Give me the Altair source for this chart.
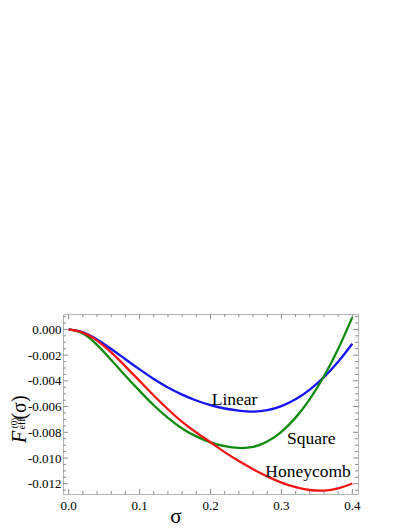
import altair as alt
import pandas as pd

# ---- data ----
sigma = [0.00, 0.02, 0.04, 0.06, 0.08, 0.10, 0.12, 0.14, 0.16, 0.18, 0.20,
         0.22, 0.24, 0.26, 0.28, 0.30, 0.32, 0.34, 0.36, 0.38, 0.40]
linear = [0.0, -0.00022, -0.00078, -0.00152, -0.00232, -0.00311, -0.00385,
          -0.00451, -0.00507, -0.00553, -0.00589, -0.00615, -0.00631, -0.00639,
          -0.00628, -0.00596, -0.00543, -0.00468, -0.00371, -0.00252, -0.00111]
square = [0.0, -0.00032, -0.00120, -0.00237, -0.00360, -0.00478, -0.00590,
          -0.00688, -0.00770, -0.00832, -0.00878, -0.00908, -0.00922, -0.00914,
          -0.00872, -0.00796, -0.00686, -0.00542, -0.00364, -0.00152, 0.00094]
honeycomb = [0.0, -0.00025, -0.00087, -0.00179, -0.00287, -0.00400, -0.00514,
             -0.00621, -0.00719, -0.00802, -0.00878, -0.00954, -0.01024, -0.01087,
             -0.01143, -0.01191, -0.01227, -0.01249, -0.01253, -0.01236, -0.01198]

series_names = ["Linear", "Square", "Honeycomb"]
series_colors = ["#1414f5", "#0f8a0f", "#f51414"]

label_text = ["Linear", "Square", "Honeycomb"]
label_x = [0.234, 0.342, 0.3375]
label_y = [-0.00588, -0.00891, -0.01151]

x_major = [0.0, 0.1, 0.2, 0.3, 0.4]
x_major_labels = ["0.0", "0.1", "0.2", "0.3", "0.4"]
x_minor = [0.02, 0.04, 0.06, 0.08, 0.12, 0.14, 0.16, 0.18, 0.22, 0.24, 0.26,
           0.28, 0.32, 0.34, 0.36, 0.38]
y_major = [0.0, -0.002, -0.004, -0.006, -0.008, -0.010, -0.012]
y_major_labels = ["0.000", "-0.002", "-0.004", "-0.006", "-0.008", "-0.010", "-0.012"]
y_minor = [0.001, 0.0005, -0.0005, -0.001, -0.0015, -0.0025, -0.003, -0.0035,
           -0.0045, -0.005, -0.0055, -0.0065, -0.007, -0.0075, -0.0085, -0.009,
           -0.0095, -0.0105, -0.011, -0.0115, -0.0125]

# ---- chart ----
W, H = 295, 180
FONT = "Liberation Serif"
TICK = "#8c8c8c"

df = pd.DataFrame({
    "sigma": sigma * 3,
    "F": linear + square + honeycomb,
    "series": [n for n in series_names for _ in sigma],
})

xs = alt.Scale(domain=[-0.008, 0.408], nice=False, zero=False)
ys = alt.Scale(domain=[-0.0128, 0.0012], nice=False, zero=False)

lines = alt.Chart(df).mark_line(strokeWidth=2.3, interpolate="natural", clip=True).encode(
    x=alt.X("sigma:Q", scale=xs, axis=None),
    y=alt.Y("F:Q", scale=ys, axis=None),
    color=alt.Color("series:N", scale=alt.Scale(domain=series_names, range=series_colors),
                    legend=None),
)


def xticks(vals, L):
    d = pd.DataFrame({"v": vals})
    b = alt.Chart(d).mark_rule(color=TICK, strokeWidth=1).encode(
        x=alt.X("v:Q", scale=xs, axis=None), y=alt.value(H), y2=alt.value(H - L))
    t = alt.Chart(d).mark_rule(color=TICK, strokeWidth=1).encode(
        x=alt.X("v:Q", scale=xs, axis=None), y=alt.value(0), y2=alt.value(L))
    return [b, t]


def yticks(vals, L):
    d = pd.DataFrame({"v": vals})
    l = alt.Chart(d).mark_rule(color=TICK, strokeWidth=1).encode(
        y=alt.Y("v:Q", scale=ys, axis=None), x=alt.value(0), x2=alt.value(L))
    r = alt.Chart(d).mark_rule(color=TICK, strokeWidth=1).encode(
        y=alt.Y("v:Q", scale=ys, axis=None), x=alt.value(W), x2=alt.value(W - L))
    return [l, r]


tick_layers = xticks(x_major, 5) + xticks(x_minor, 3) + yticks(y_major, 5) + yticks(y_minor, 3)

xlab = alt.Chart(pd.DataFrame({"v": x_major, "t": x_major_labels})).mark_text(
    font=FONT, fontSize=13, align="center", baseline="alphabetic", color="black"
).encode(x=alt.X("v:Q", scale=xs, axis=None), y=alt.value(196), text="t:N")

ylab = alt.Chart(pd.DataFrame({"v": y_major, "t": y_major_labels})).mark_text(
    font=FONT, fontSize=13, align="right", baseline="alphabetic", dy=4.5, color="black"
).encode(y=alt.Y("v:Q", scale=ys, axis=None), x=alt.value(-1.5), text="t:N")

labels_df = pd.DataFrame({"text": label_text, "x": label_x, "y": label_y})
labels = alt.Chart(labels_df).mark_text(
    font=FONT, fontSize=17.5, align="center", baseline="alphabetic", color="black"
).encode(
    x=alt.X("x:Q", scale=xs, axis=None),
    y=alt.Y("y:Q", scale=ys, axis=None),
    text="text:N",
)


def piece(text, x, y, size, angle=270, **kw):
    return alt.Chart(alt.InlineData(values=[{"k": 0}])).mark_text(
        text=text, angle=angle, font=FONT, fontSize=size, align="center",
        color="black", **kw
    ).encode(x=alt.value(x), y=alt.value(y))


title_layers = [
    piece("F", -37.5, 123, 20, fontStyle="italic", baseline="alphabetic"),
    piece("(σ)", -37.5, 93.5, 20, baseline="alphabetic"),
    piece("(0)", -49.5, 109, 9, baseline="middle"),
    piece("eff", -38.5, 110, 10, baseline="alphabetic"),
    alt.Chart(alt.InlineData(values=[{"k": 0}])).mark_text(
        text="σ", font=FONT, fontSize=21, align="center", baseline="alphabetic",
        color="black").encode(x=alt.value(113), y=alt.value(209)),
]

chart = alt.layer(*tick_layers, lines, labels, xlab, ylab, *title_layers).properties(
    width=W, height=H,
    autosize=alt.AutoSizeParams(type="none"),
    padding={"left": 55, "top": 306, "right": 40, "bottom": 40},
    background="white",
).configure_view(stroke="#b5b5b5", strokeWidth=1)

chart.save("out.html", embed_options={"renderer": "svg", "actions": False})
